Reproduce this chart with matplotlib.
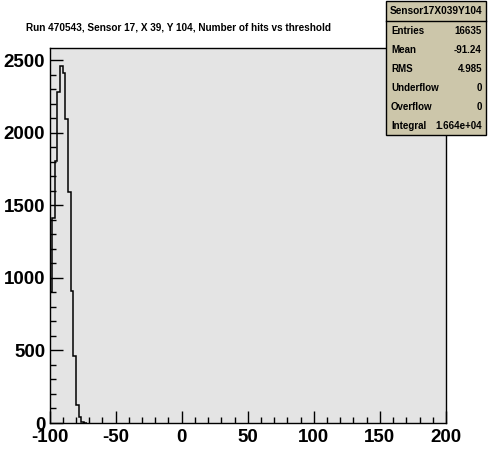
#!/usr/bin/env python
# -*- coding: utf-8 -*-

import numpy as np
import matplotlib
matplotlib.use('Agg')
import matplotlib.pyplot as plt
from matplotlib.patches import Rectangle
from matplotlib.ticker import MultipleLocator

###############################################################################
# Data
###############################################################################
BIN_LO = -100
BIN_W = 2
COUNTS = [902, 1412, 1806, 2277, 2461, 2408, 2091, 1593, 909, 461, 124, 43, 9, 2]
TITLE = 'Run 470543, Sensor 17, X 39, Y 104, Number of hits vs threshold'
STAT_NAME = 'Sensor17X039Y104'
STAT_KEYS = ['Entries', 'Mean', 'RMS', 'Underflow', 'Overflow', 'Integral']
STAT_VALS = ['16635', '-91.24', '4.985', '0', '0', '1.664e+04']
(XLIM, YLIM) = ((-100, 200), (0, 2583))
###############################################################################
# Figure
###############################################################################
(W, H, DPI) = (496, 471, 100)
plt.rcParams['font.family'] = ['Liberation Sans', 'DejaVu Sans']
plt.rcParams['axes.unicode_minus'] = False
fig = plt.figure(figsize=(W/DPI, H/DPI), dpi=DPI, facecolor='white')
(x0, x1, y0, y1) = (49.5, 446, 48, 423)
ax = fig.add_axes([x0/W, 1-y1/H, (x1-x0)/W, (y1-y0)/H])
ax.set_facecolor('#e4e4e4')
edges = BIN_LO + BIN_W*np.arange(len(COUNTS)+1)
ax.stairs(COUNTS, edges, color='black', lw=1.1, baseline=0)
ax.set_xlim(*XLIM)
ax.set_ylim(*YLIM)
ax.xaxis.set_major_locator(MultipleLocator(50))
ax.xaxis.set_minor_locator(MultipleLocator(10))
ax.yaxis.set_major_locator(MultipleLocator(500))
ax.yaxis.set_minor_locator(MultipleLocator(100))
ax.tick_params(which='both', direction='in', top=False, right=False, width=1, color='black')
ax.tick_params(which='major', length=9)
ax.tick_params(which='minor', length=4.5)
ax.tick_params(axis='x', which='major', pad=4)
ax.tick_params(axis='y', which='major', pad=3)
for lab in ax.get_xticklabels() + ax.get_yticklabels():
    lab.set_fontsize(13.5)
    lab.set_fontweight('bold')
for sp in ax.spines.values():
    sp.set_linewidth(1)
    sp.set_color('black')
###############################################################################
# Title and stats box
###############################################################################
fig.text(26/W, 1-27/H, TITLE, fontsize=7.2, fontweight='bold', va='center', ha='left')
(bx0, bx1, by0, by1) = (386, 486, 1, 135)
fig.patches.append(Rectangle(
    (bx0/W, 1-by1/H), (bx1-bx0)/W, (by1-by0)/H, transform=fig.transFigure,
    facecolor='#ccc6aa', edgecolor='black', lw=1, zorder=5
))
hdr = 21
fig.lines.append(plt.Line2D(
    [bx0/W, bx1/W], [1-hdr/H, 1-hdr/H], transform=fig.transFigure,
    color='black', lw=1, zorder=6
))
fig.text((bx0+bx1)/2/W, 1-11/H, STAT_NAME, fontsize=7.3, fontweight='bold',
         ha='center', va='center', zorder=7)
for (i, (k, v)) in enumerate(zip(STAT_KEYS, STAT_VALS)):
    yy = 1-(31+19*i)/H
    fig.text((bx0+5)/W, yy, k, fontsize=7, fontweight='bold', ha='left', va='center', zorder=7)
    fig.text((bx1-4)/W, yy, v, fontsize=7, fontweight='bold', ha='right', va='center', zorder=7)
fig.savefig('out.png', dpi=DPI, facecolor='white')
plt.close('all')
